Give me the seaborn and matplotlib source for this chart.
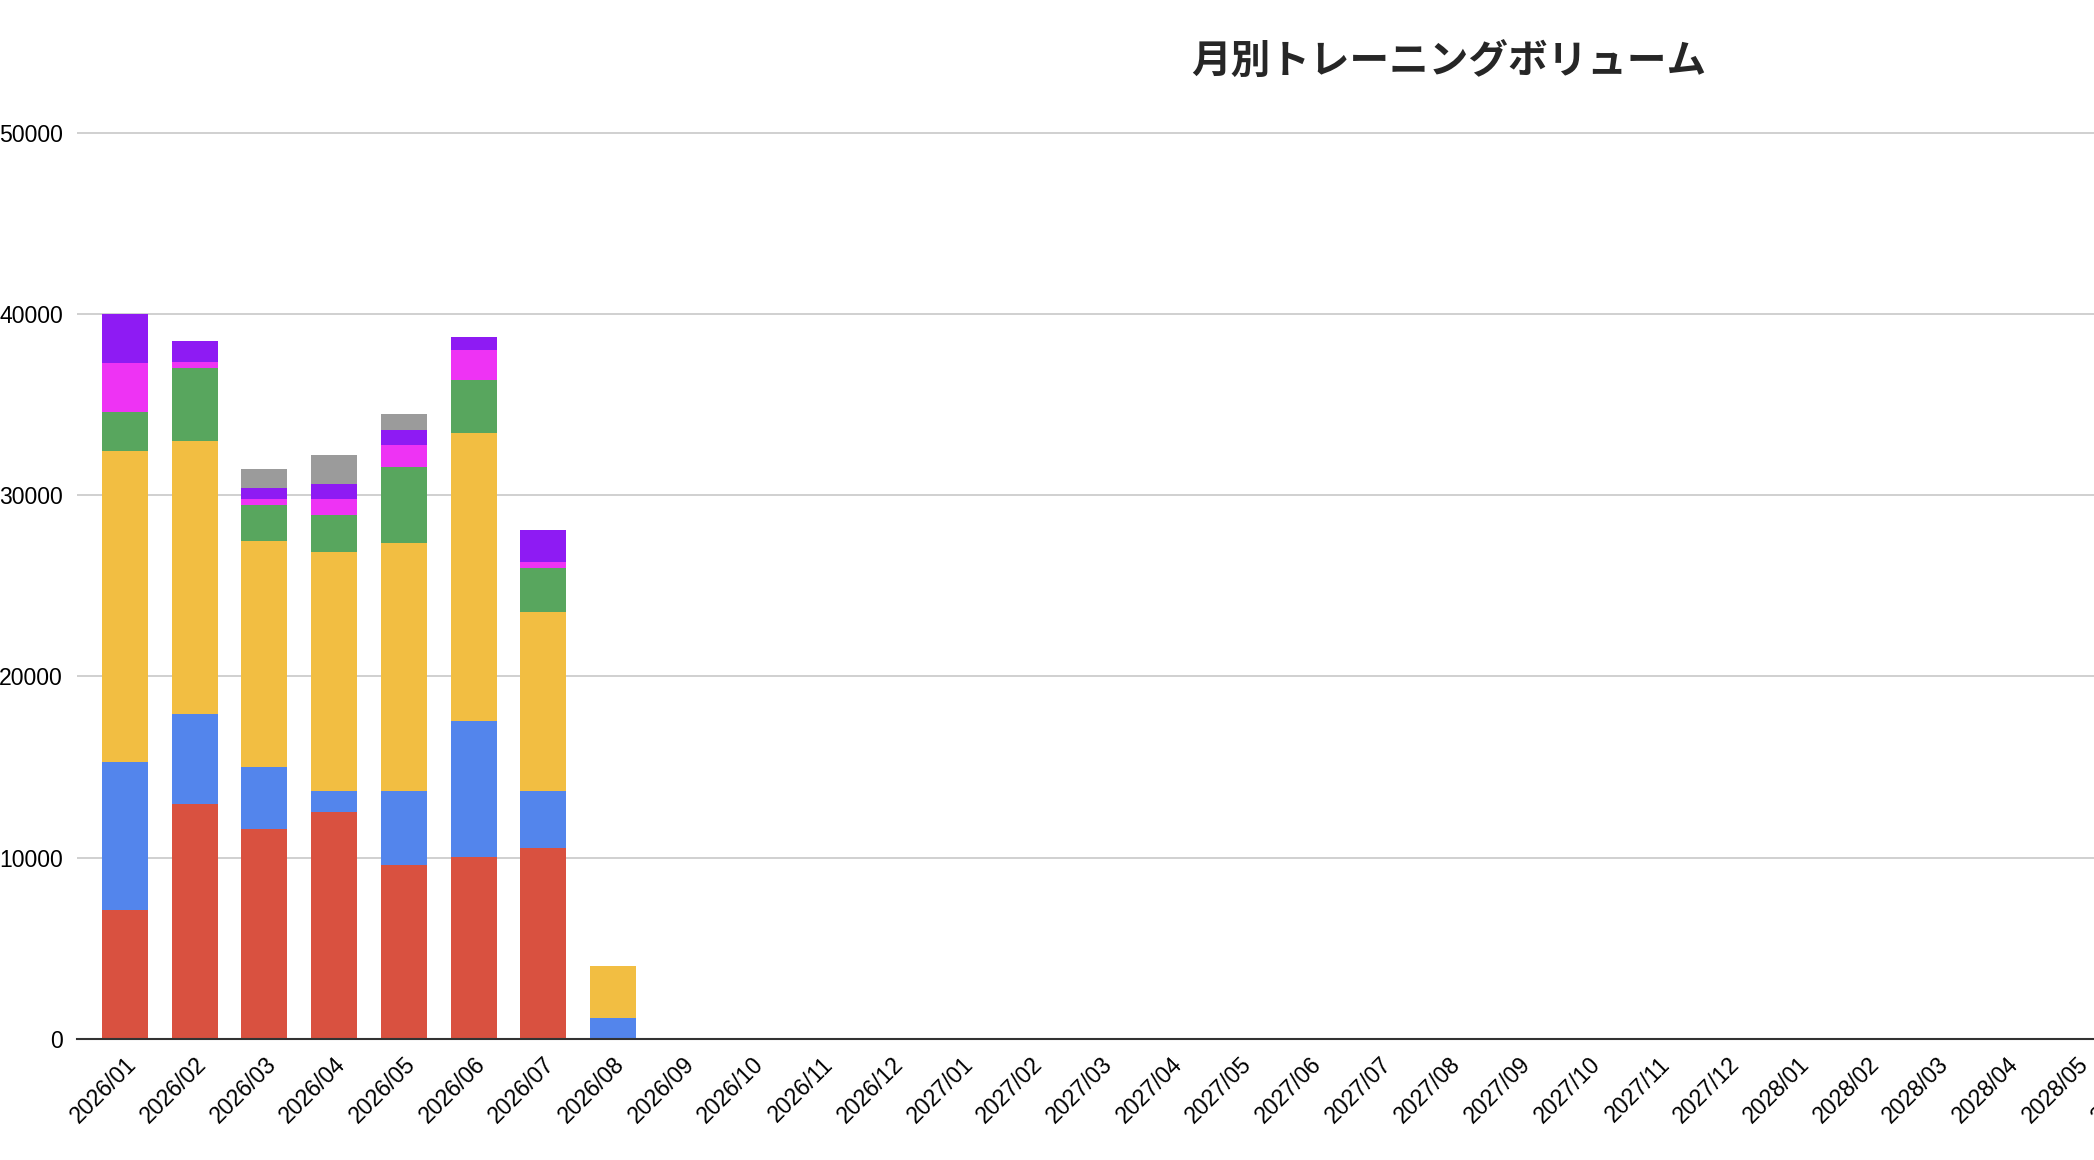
import matplotlib
matplotlib.use("Agg")
import matplotlib.pyplot as plt
import matplotlib.transforms as mtransforms
import pandas as pd
import seaborn as sns

# months on the x axis (the chart runs past the right edge of the picture)
months = [
    "2026/01", "2026/02", "2026/03", "2026/04", "2026/05", "2026/06",
    "2026/07", "2026/08", "2026/09", "2026/10", "2026/11", "2026/12",
    "2027/01", "2027/02", "2027/03", "2027/04", "2027/05", "2027/06",
    "2027/07", "2027/08", "2027/09", "2027/10", "2027/11", "2027/12",
    "2028/01", "2028/02", "2028/03", "2028/04", "2028/05", "2028/06",
]

# volume per body part, stacked bottom -> top
legs = [7100, 12930, 11600, 12490, 9600, 10050, 10520, 0,
        0, 0, 0, 0, 0, 0, 0, 0, 0, 0, 0, 0, 0, 0, 0, 0, 0, 0, 0, 0, 0, 0]
chest = [8150, 4980, 3425, 1205, 4090, 7510, 3180, 1130,
         0, 0, 0, 0, 0, 0, 0, 0, 0, 0, 0, 0, 0, 0, 0, 0, 0, 0, 0, 0, 0, 0]
back = [17200, 15100, 12460, 13150, 13700, 15890, 9830, 2860,
        0, 0, 0, 0, 0, 0, 0, 0, 0, 0, 0, 0, 0, 0, 0, 0, 0, 0, 0, 0, 0, 0]
shoulders = [2170, 4030, 2000, 2070, 4190, 2920, 2440, 0,
             0, 0, 0, 0, 0, 0, 0, 0, 0, 0, 0, 0, 0, 0, 0, 0, 0, 0, 0, 0, 0, 0]
arms = [2660, 340, 320, 890, 1210, 1670, 320, 0,
        0, 0, 0, 0, 0, 0, 0, 0, 0, 0, 0, 0, 0, 0, 0, 0, 0, 0, 0, 0, 0, 0]
abs_ = [2750, 1110, 570, 790, 790, 670, 1770, 0,
        0, 0, 0, 0, 0, 0, 0, 0, 0, 0, 0, 0, 0, 0, 0, 0, 0, 0, 0, 0, 0, 0]
other = [0, 0, 1085, 1650, 890, 0, 0, 0,
         0, 0, 0, 0, 0, 0, 0, 0, 0, 0, 0, 0, 0, 0, 0, 0, 0, 0, 0, 0, 0, 0]

parts = ["脚", "胸", "背中", "肩", "腕", "腹", "その他"]
colors = ["#d95140", "#5385ec", "#f2be42", "#58a65e", "#ee33f4", "#8e1bf3", "#9b9b9b"]
yticks = [0, 10000, 20000, 30000, 40000, 50000]

df = pd.DataFrame({"month": months})
for name, vals in zip(parts, [legs, chest, back, shoulders, arms, abs_, other]):
    df[name] = vals
cum = df[parts].cumsum(axis=1)

sns.set_style("white")
plt.rcParams["font.family"] = ["Liberation Sans", "Noto Sans CJK JP", "DejaVu Sans"]

fig = plt.figure(figsize=(20.94, 11.6), dpi=100)
# axes run past the right edge, like the cropped original
ax = fig.add_axes([0.03677, 0.1046, 1.0714, 0.8120])

# draw cumulative totals, tallest first, so each lower part covers the one above
for name, c in reversed(list(zip(parts, colors))):
    sns.barplot(x=df["month"], y=cum[name], order=months, color=c,
                saturation=1, width=0.66, linewidth=0, ax=ax)

ax.set_xlim(-0.689, 31.5)
ax.set_ylim(0, 52000)
ax.set_yticks(yticks)
ax.set_yticklabels([str(v) for v in yticks])
ax.set_xlabel("")
ax.set_ylabel("")

ax.set_axisbelow(True)
ax.yaxis.grid(True, color="#c8c8c8", linewidth=1.2)
ax.xaxis.grid(False)
for s in ["top", "right", "left"]:
    ax.spines[s].set_visible(False)
ax.spines["bottom"].set_color("#333333")
ax.spines["bottom"].set_linewidth(1.5)

ax.tick_params(axis="y", length=0, pad=10, labelsize=16.6, labelcolor="#000000")
ax.tick_params(axis="x", length=0, pad=16, labelsize=16.6, labelcolor="#000000")
shift = mtransforms.ScaledTranslation(0.08, 0, fig.dpi_scale_trans)
for lab in ax.get_xticklabels():
    lab.set_rotation(45)
    lab.set_ha("right")
    lab.set_va("center")
    lab.set_rotation_mode("anchor")
    lab.set_transform(lab.get_transform() + shift)

fig.text(0.692, 0.9466, "月別トレーニングボリューム", ha="center", va="center",
         fontsize=28.5, fontweight="bold",
         family=["Noto Sans CJK JP", "DejaVu Sans"])

fig.savefig("out.png", dpi=100)
